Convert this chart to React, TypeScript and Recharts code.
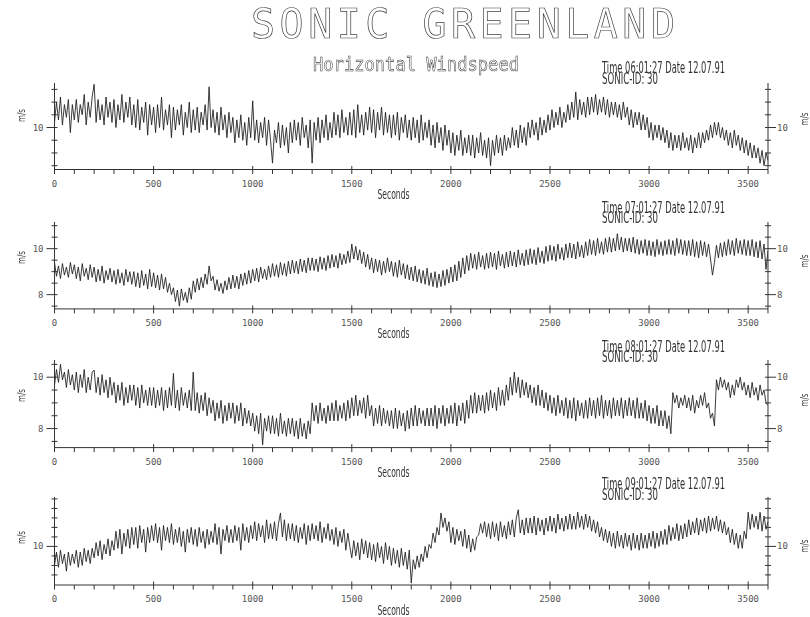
import React from 'react';
import { LineChart, Line, XAxis, YAxis } from 'recharts';

const STEP_SECONDS = 10;

// Horizontal windspeed (m/s), one value every 10 s, hours 06, 07, 08, 09
const hour06 = [
  10.2, 11.0, 10.3, 11.2, 10.1, 10.9, 10.4, 11.1, 9.8, 10.9, 10.3, 11.1, 10.2, 10.9, 10.5, 11.3, 10.1, 11.0, 10.4, 11.2,
  11.7, 10.2, 11.1, 10.3, 10.9, 10.1, 11.2, 10.4, 11.0, 10.2, 11.1, 10.0, 10.9, 10.3, 11.3, 10.2, 11.0, 10.4, 11.2, 10.1,
  10.9, 10.0, 11.1, 9.9, 10.8, 10.2, 11.0, 9.7, 10.9, 10.1, 10.8, 9.8, 10.9, 10.0, 11.2, 9.9, 10.7, 10.1, 10.9, 9.6,
  10.8, 9.9, 10.7, 10.1, 10.9, 9.7, 10.6, 10.0, 11.0, 9.8, 10.7, 9.9, 10.8, 9.8, 10.6, 10.1, 10.9, 9.9, 11.6, 10.0,
  10.7, 9.8, 10.6, 9.7, 10.8, 9.9, 10.5, 9.6, 10.6, 9.8, 10.4, 9.4, 10.3, 9.6, 10.5, 9.5, 10.2, 9.3, 10.4, 9.6,
  11.05, 9.5, 10.3, 9.4, 10.2, 9.6, 10.4, 9.3, 10.3, 9.5, 8.6, 9.9, 9.4, 10.2, 9.2, 10.1, 9.3, 10.0, 9.0, 10.2,
  9.4, 10.3, 9.5, 10.2, 9.3, 10.4, 9.6, 10.1, 9.2, 10.3, 8.6, 10.2, 9.5, 10.4, 9.4, 10.3, 9.6, 10.5, 9.5, 10.2,
  9.6, 10.6, 9.7, 10.5, 9.6, 10.7, 9.8, 10.4, 9.7, 10.6, 9.7, 10.7, 9.6, 10.9, 9.8, 10.5, 9.7, 10.6, 9.9, 10.8,
  9.8, 10.7, 9.6, 10.6, 9.9, 10.8, 9.7, 10.6, 9.8, 10.5, 9.6, 10.5, 9.7, 10.6, 9.5, 10.4, 9.8, 10.5, 9.6, 10.3,
  9.5, 10.4, 9.6, 10.3, 9.4, 10.5, 9.5, 10.2, 9.6, 10.3, 9.3, 10.1, 9.2, 10.2, 9.4, 10.0, 9.1, 10.1, 9.3, 9.9,
  9.0, 9.8, 8.9, 9.7, 9.1, 9.9, 8.9, 9.6, 9.0, 9.7, 8.9, 9.7, 8.8, 9.6, 9.0, 9.8, 8.9, 9.5, 8.8, 9.6,
  8.5, 9.5, 8.9, 9.7, 9.0, 9.6, 8.9, 9.7, 9.1, 9.6, 9.2, 10.0, 9.3, 9.9, 9.2, 10.1, 9.4, 10.0, 9.3, 10.2,
  9.6, 10.3, 9.7, 10.2, 9.5, 10.4, 9.7, 10.3, 9.8, 10.5, 9.9, 10.7, 10.0, 10.6, 10.1, 10.8, 10.0, 10.6, 10.2, 10.9,
  10.3, 11.0, 10.4, 11.4, 10.3, 11.1, 10.5, 11.0, 10.4, 11.2, 10.5, 11.2, 10.6, 11.3, 10.5, 11.1, 10.6, 11.2, 10.5, 11.1,
  10.4, 11.0, 10.5, 11.0, 10.4, 10.9, 10.3, 11.0, 10.4, 10.8, 10.1, 10.7, 10.0, 10.6, 10.1, 10.6, 9.9, 10.5, 9.9, 10.4,
  9.6, 10.2, 9.5, 10.1, 9.6, 10.1, 9.5, 10.0, 9.4, 9.9, 9.2, 9.8, 9.1, 9.7, 9.2, 9.7, 9.1, 9.8, 9.2, 9.6,
  9.1, 9.7, 9.0, 9.6, 9.2, 9.8, 9.2, 9.8, 9.4, 9.9, 9.5, 10.1, 9.6, 10.2, 9.7, 10.2, 9.6, 10.0, 9.5, 9.9,
  9.3, 9.8, 9.2, 9.9, 9.3, 9.7, 9.1, 9.6, 9.0, 9.5, 8.9, 9.4, 8.8, 9.3, 8.8, 9.2, 8.6, 9.1, 8.5, 9.0,
  8.7,
];

const hour07 = [
  9.4, 8.8, 9.25, 8.7, 9.35, 8.85, 9.2, 8.75, 9.4, 8.9, 9.3, 8.7, 9.2, 8.6, 9.35, 8.8, 9.15, 8.65, 9.3, 8.75,
  9.2, 8.55, 9.1, 8.6, 9.25, 8.5, 9.05, 8.65, 9.15, 8.55, 9.05, 8.45, 9.1, 8.5, 8.95, 8.4, 9.1, 8.55, 9.0, 8.45,
  9.0, 8.35, 8.95, 8.3, 9.05, 8.4, 8.9, 8.25, 9.1, 8.35, 8.95, 8.3, 8.85, 8.2, 8.9, 8.25, 8.75, 8.1, 8.5, 8.0,
  8.3, 7.7, 8.2, 7.5, 8.25, 7.75, 8.1, 7.65, 8.3, 7.8, 8.6, 8.1, 8.7, 8.2, 8.75, 8.3, 8.9, 8.45, 9.25, 8.6,
  8.8, 8.2, 8.65, 8.15, 8.5, 8.05, 8.6, 8.2, 8.75, 8.25, 8.85, 8.3, 8.8, 8.25, 8.9, 8.4, 8.95, 8.45, 9.05, 8.5,
  9.1, 8.6, 9.15, 8.55, 9.2, 8.7, 9.1, 8.65, 9.25, 8.75, 9.35, 8.8, 9.3, 8.75, 9.4, 8.85, 9.35, 8.8, 9.45, 8.9,
  9.5, 8.95, 9.45, 8.9, 9.55, 9.0, 9.5, 8.95, 9.6, 9.05, 9.6, 9.05, 9.55, 9.0, 9.65, 9.1, 9.6, 9.05, 9.7, 9.15,
  9.75, 9.2, 9.7, 9.15, 9.8, 9.3, 9.75, 9.35, 9.9, 9.4, 10.2, 9.55, 10.1, 9.5, 9.95, 9.35, 9.85, 9.2, 9.75, 9.1,
  9.6, 8.95, 9.55, 9.0, 9.5, 8.85, 9.45, 8.95, 9.6, 9.0, 9.45, 8.8, 9.4, 8.75, 9.5, 8.85, 9.35, 8.7, 9.3, 8.65,
  9.2, 8.6, 9.25, 8.55, 9.1, 8.5, 9.05, 8.45, 9.15, 8.4, 8.95, 8.35, 9.0, 8.3, 8.9, 8.35, 9.05, 8.4, 9.1, 8.5,
  9.2, 8.55, 9.3, 8.6, 9.45, 8.75, 9.6, 8.9, 9.7, 9.05, 9.8, 9.15, 9.75, 9.1, 9.85, 9.2, 9.7, 9.1, 9.8, 9.15,
  9.85, 9.2, 9.8, 9.1, 9.9, 9.25, 9.75, 9.15, 9.85, 9.2, 9.9, 9.25, 9.85, 9.2, 9.95, 9.3, 9.8, 9.25, 9.95, 9.3,
  10.0, 9.35, 9.95, 9.3, 10.05, 9.4, 9.9, 9.35, 10.1, 9.45, 10.15, 9.5, 10.1, 9.45, 10.2, 9.55, 10.05, 9.5, 10.2, 9.6,
  10.25, 9.6, 10.2, 9.55, 10.3, 9.65, 10.15, 9.6, 10.3, 9.7, 10.4, 9.75, 10.35, 9.7, 10.45, 9.8, 10.3, 9.75, 10.45, 9.85,
  10.5, 9.85, 10.45, 9.9, 10.65, 9.95, 10.5, 9.85, 10.45, 9.9, 10.45, 9.85, 10.5, 9.8, 10.4, 9.75, 10.35, 9.8, 10.4, 9.7,
  10.35, 9.7, 10.3, 9.65, 10.4, 9.75, 10.3, 9.7, 10.35, 9.75, 10.4, 9.75, 10.35, 9.7, 10.45, 9.8, 10.4, 9.75, 10.35, 9.7,
  10.35, 9.7, 10.4, 9.65, 10.3, 9.6, 10.35, 9.7, 10.3, 9.65, 10.2, 9.55, 8.85, 9.4, 10.15, 9.6, 10.25, 9.65, 10.3, 9.7,
  10.4, 9.75, 10.35, 9.7, 10.45, 9.8, 10.35, 9.75, 10.4, 9.7, 10.35, 9.7, 10.4, 9.65, 10.3, 9.6, 10.35, 9.55, 10.2, 9.1,
  9.9,
];

const hour08 = [
  9.7, 10.3, 9.8, 10.5, 9.9, 10.2, 9.6, 10.3, 9.7, 10.1, 9.5, 10.2, 9.4, 10.1, 9.6, 10.3, 9.4, 10.0, 9.5, 10.2,
  10.28, 9.4, 10.0, 9.3, 10.1, 9.4, 9.9, 9.2, 10.0, 9.3, 9.8, 9.0, 9.7, 9.1, 9.8, 8.9, 9.6, 9.0, 9.7, 9.1,
  9.7, 8.9, 9.6, 8.8, 9.7, 9.0, 9.5, 8.9, 9.6, 8.9, 9.6, 8.8, 9.5, 8.9, 9.6, 8.7, 9.5, 8.8, 9.6, 8.9,
  10.15, 8.8, 9.5, 8.7, 9.6, 8.9, 9.4, 8.8, 9.5, 8.7, 10.2, 8.7, 9.4, 8.6, 9.3, 8.7, 9.4, 8.5, 9.2, 8.6,
  9.1, 8.3, 9.0, 8.4, 9.1, 8.2, 8.9, 8.3, 9.0, 8.4, 9.0, 8.2, 8.9, 8.3, 9.0, 8.1, 8.8, 8.2, 8.7, 8.1,
  8.6, 7.9, 8.5, 7.8, 8.6, 7.37, 8.4, 7.9, 8.5, 7.8, 8.5, 7.8, 8.4, 7.7, 8.6, 7.8, 8.3, 7.7, 8.4, 7.8,
  8.4, 7.7, 8.3, 7.6, 8.4, 7.7, 8.2, 7.6, 8.3, 7.8, 9.0, 8.3, 8.9, 8.2, 9.0, 8.3, 8.8, 8.2, 8.9, 8.3,
  9.0, 8.3, 9.1, 8.3, 8.9, 8.4, 9.0, 8.3, 9.1, 8.4, 9.2, 8.5, 9.3, 8.5, 9.1, 8.6, 9.2, 8.4, 9.3, 8.5,
  8.9, 8.1, 8.8, 8.2, 8.9, 8.1, 8.8, 8.2, 8.7, 8.1, 8.7, 8.0, 8.8, 8.0, 8.7, 8.1, 8.6, 7.9, 8.7, 8.0,
  8.8, 8.1, 8.9, 8.1, 8.8, 8.2, 8.7, 8.1, 8.8, 8.1, 8.8, 8.1, 8.9, 8.0, 8.8, 8.2, 8.9, 8.1, 8.8, 8.2,
  8.9, 8.2, 9.0, 8.1, 8.9, 8.3, 9.0, 8.2, 9.1, 8.4, 9.3, 8.6, 9.4, 8.6, 9.3, 8.7, 9.3, 8.6, 9.4, 8.7,
  9.5, 8.8, 9.4, 8.7, 9.6, 8.9, 9.5, 8.9, 9.7, 9.1, 10.0, 9.3, 10.2, 9.4, 10.0, 9.2, 9.9, 9.3, 9.8, 9.2,
  9.7, 9.0, 9.6, 8.9, 9.7, 8.9, 9.5, 8.8, 9.4, 8.7, 9.3, 8.6, 9.2, 8.5, 9.3, 8.6, 9.1, 8.5, 9.2, 8.4,
  9.1, 8.4, 9.2, 8.3, 9.1, 8.5, 9.0, 8.4, 9.1, 8.4, 9.2, 8.5, 9.1, 8.4, 9.2, 8.5, 9.3, 8.4, 9.1, 8.5,
  9.1, 8.4, 9.2, 8.5, 9.1, 8.5, 9.2, 8.4, 9.1, 8.5, 9.2, 8.5, 9.1, 8.4, 9.2, 8.4, 9.0, 8.4, 9.1, 8.3,
  8.9, 8.2, 8.8, 8.2, 8.9, 8.1, 8.7, 8.1, 8.7, 8.0, 8.5, 7.8, 9.4, 9.0, 9.3, 8.8, 9.2, 8.9, 9.3, 8.8,
  9.2, 8.7, 9.3, 8.6, 9.1, 8.8, 9.3, 8.9, 9.4, 8.8, 9.0, 8.4, 8.6, 8.1, 9.9, 9.5, 10.0, 9.6, 9.9, 9.5,
  9.8, 9.2, 9.7, 9.3, 9.9, 9.6, 10.0, 9.5, 9.8, 9.3, 9.7, 9.2, 9.8, 9.3, 9.6, 9.1, 9.7, 9.3, 9.5, 9.0,
  8.9,
];

const hour09 = [
  9.0, 9.7, 8.9, 9.8, 9.1, 9.6, 8.7, 9.7, 9.0, 9.6, 9.1, 9.8, 8.9, 9.7, 9.0, 9.9, 9.2, 9.8, 9.1, 9.9,
  9.4, 10.2, 9.5, 10.3, 9.3, 10.1, 9.6, 10.4, 9.5, 10.3, 9.8, 10.8, 9.9, 10.9, 9.6, 10.7, 10.0, 10.9, 9.9, 11.0,
  10.1, 11.0, 9.9, 11.1, 10.2, 10.9, 9.7, 11.0, 10.2, 11.1, 10.3, 11.2, 10.2, 11.0, 9.8, 11.1, 10.3, 11.0, 10.2, 11.2,
  10.1, 10.9, 10.2, 11.0, 10.0, 10.8, 9.7, 10.9, 10.2, 11.0, 10.1, 10.9, 10.0, 11.0, 10.2, 10.8, 9.9, 10.9, 10.1, 10.8,
  10.2, 11.2, 10.1, 11.0, 9.6, 10.9, 10.3, 11.1, 10.2, 10.9, 10.2, 11.1, 10.3, 11.0, 9.8, 11.2, 10.3, 11.0, 10.2, 11.1,
  10.4, 11.3, 10.3, 11.2, 10.5, 11.1, 10.2, 11.4, 10.4, 11.2, 10.4, 11.3, 10.3, 11.2, 11.76, 10.5, 11.4, 10.3, 11.2, 10.4,
  11.2, 10.3, 11.1, 10.2, 11.0, 10.4, 11.2, 10.1, 11.1, 10.3, 11.2, 10.4, 11.1, 10.3, 11.3, 10.2, 11.0, 10.4, 11.2, 10.3,
  10.9, 10.1, 11.0, 10.0, 10.8, 10.2, 10.9, 9.8, 10.7, 10.0, 9.4, 10.3, 9.5, 10.2, 9.3, 10.4, 9.6, 10.3, 9.4, 10.2,
  9.3, 10.1, 9.2, 10.2, 9.4, 10.0, 9.1, 10.2, 9.3, 10.0, 9.0, 9.9, 9.1, 9.8, 8.9, 9.9, 9.0, 9.7, 8.8, 9.8,
  8.07, 9.3, 8.8, 9.5, 8.9, 9.6, 9.2, 10.0, 9.4, 10.1, 9.9, 10.7, 10.2, 11.0, 10.6, 11.76, 11.0, 11.5, 10.8, 11.3,
  10.2, 11.0, 10.1, 10.9, 10.3, 10.8, 10.0, 10.9, 9.9, 10.6, 9.7, 10.4, 9.8, 10.5, 10.6, 11.2, 10.7, 11.3, 10.5, 11.2,
  10.4, 11.3, 10.5, 11.2, 10.3, 11.3, 10.5, 11.1, 10.4, 11.3, 10.6, 11.4, 10.5, 11.5, 11.93, 10.7, 11.4, 10.6, 11.5, 10.7,
  11.5, 10.7, 11.6, 10.6, 11.5, 10.8, 11.4, 10.6, 11.5, 10.8, 11.6, 10.8, 11.5, 10.7, 11.7, 10.9, 11.5, 10.8, 11.6, 10.9,
  11.7, 10.9, 11.6, 10.9, 11.8, 11.0, 11.6, 10.9, 11.7, 11.0, 11.6, 10.8, 11.4, 10.7, 11.3, 10.5, 11.0, 10.3, 10.9, 10.2,
  10.8, 10.0, 10.7, 9.9, 10.8, 10.0, 10.6, 9.9, 10.7, 10.0, 10.6, 9.8, 10.7, 9.9, 10.6, 9.8, 10.7, 9.9, 10.6, 9.9,
  10.7, 10.0, 10.8, 9.9, 10.7, 10.0, 10.8, 10.1, 10.9, 10.1, 11.1, 10.3, 11.0, 10.4, 11.2, 10.3, 11.1, 10.4, 11.2, 10.5,
  11.4, 10.6, 11.3, 10.7, 11.5, 10.6, 11.4, 10.8, 11.5, 10.7, 11.6, 10.8, 11.5, 10.9, 11.6, 10.8, 11.4, 10.7, 11.3, 10.6,
  11.0, 10.2, 10.9, 10.1, 10.7, 9.9, 10.6, 9.9, 10.8, 10.4, 11.8, 10.9, 11.7, 11.0, 11.6, 10.9, 11.8, 10.8, 11.6, 10.9,
  11.3,
];

const xTicks = [
  0, 100, 200, 300, 400, 500, 600, 700, 800, 900, 1000, 1100, 1200, 1300, 1400, 1500,
  1600, 1700, 1800, 1900, 2000, 2100, 2200, 2300, 2400, 2500, 2600, 2700, 2800, 2900,
  3000, 3100, 3200, 3300, 3400, 3500, 3600,
];
const xLabelTicks = [0, 500, 1000, 1500, 2000, 2500, 3000, 3500];

const yTicks06 = [8.5, 9, 9.5, 10, 10.5, 11, 11.5];
const yTicks07 = [7.5, 8, 8.5, 9, 9.5, 10, 10.5, 11];
const yTicks08 = [7.5, 8, 8.5, 9, 9.5, 10, 10.5];
const yTicks09 = [8.5, 9, 9.5, 10, 10.5, 11, 11.5, 12, 12.5];
const yLabels06 = [10];
const yLabels07 = [8, 10];
const yLabels08 = [8, 10];
const yLabels09 = [10];

const timeStamps = ['Time 06:01:27 Date 12.07.91', 'Time 07:01:27 Date 12.07.91', 'Time 08:01:27 Date 12.07.91', 'Time 09:01:27 Date 12.07.91'];
const sonicId = 'SONIC-ID: 30';

const toRows = (values: number[]) => values.map((v, i) => ({ t: i * STEP_SECONDS, v }));

// layout (pixels) of each panel
const panels = [
  { values: hour06, yTicks: yTicks06, yLabels: yLabels06, domain: [8.35, 11.75], top: 82.5, bottom: 169, yLabelY: 115.5, yLabelYR: 119 },
  { values: hour07, yTicks: yTicks07, yLabels: yLabels07, domain: [7.38, 11.16], top: 221.6, bottom: 308.5, yLabelY: 257.5, yLabelYR: 261 },
  { values: hour08, yTicks: yTicks08, yLabels: yLabels08, domain: [7.26, 10.67], top: 360.1, bottom: 447.7, yLabelY: 395.5, yLabelYR: 400 },
  { values: hour09, yTicks: yTicks09, yLabels: yLabels09, domain: [7.97, 12.6], top: 497.3, bottom: 585.3, yLabelY: 537.5, yLabelYR: 546 },
];

const INK = '#1a1a1a';
const AXIS = '#333';
const LEFT = 54.5;
const RIGHT = 768;
const PAD_TOP = 4;
const XAXIS_H = 30;

const XTick = (props: any) => {
  const { x, y, payload } = props;
  const val = payload.value;
  const major = xLabelTicks.includes(val);
  return (
    <g>
      <line x1={x} x2={x} y1={major ? y - 3.5 : y} y2={y + 4.5} stroke={AXIS} strokeWidth={1} />
      {major && (
        <text x={x} y={y + 17} textAnchor="middle" fontFamily="DejaVu Sans Mono" fontSize={9} fill="#555">
          {val}
        </text>
      )}
    </g>
  );
};

const makeYTick = (labels: number[], side: 'l' | 'r') => (props: any) => {
  const { x, y, payload } = props;
  const val = payload.value;
  const lab = labels.includes(val);
  if (side === 'l') {
    return (
      <g>
        <line x1={lab ? x - 8 : x - 3} x2={x + 3} y1={y} y2={y} stroke={AXIS} strokeWidth={1} />
        {lab && (
          <text x={x - 11} y={y + 3} textAnchor="end" fontFamily="DejaVu Sans Mono" fontSize={9} fill="#555">
            {val}
          </text>
        )}
      </g>
    );
  }
  return (
    <g>
      <line x1={x - 3} x2={lab ? x + 8 : x + 3} y1={y} y2={y} stroke={AXIS} strokeWidth={1} />
      {lab && (
        <text x={x + 9} y={y + 3} textAnchor="start" fontFamily="DejaVu Sans Mono" fontSize={9} fill="#555">
          {val}
        </text>
      )}
    </g>
  );
};

const Panel = ({ p }: { p: (typeof panels)[number] }) => {
  const H = p.bottom - p.top + PAD_TOP + XAXIS_H;
  return (
    <div style={{ position: 'absolute', left: 0, top: p.top - PAD_TOP, width: 810, height: H }}>
      <LineChart width={810} height={H} data={toRows(p.values)} margin={{ top: PAD_TOP, right: 0, bottom: 0, left: 0 }}>
        <XAxis
          dataKey="t"
          type="number"
          domain={[0, 3600]}
          ticks={xTicks}
          interval={0}
          height={XAXIS_H}
          tickSize={0}
          tickMargin={0}
          tickLine={false}
          axisLine={{ stroke: AXIS, strokeWidth: 1 }}
          tick={(props: any) => <XTick {...props} />}
          allowDataOverflow
        />
        <YAxis
          yAxisId="l"
          type="number"
          domain={p.domain}
          ticks={p.yTicks}
          interval={0}
          width={LEFT}
          tickSize={0}
          tickMargin={0}
          tickLine={false}
          axisLine={{ stroke: AXIS, strokeWidth: 1 }}
          tick={makeYTick(p.yLabels, 'l')}
          allowDataOverflow
        />
        <YAxis
          yAxisId="r"
          orientation="right"
          type="number"
          domain={p.domain}
          ticks={p.yTicks}
          interval={0}
          width={810 - RIGHT}
          tickSize={0}
          tickMargin={0}
          tickLine={false}
          axisLine={{ stroke: AXIS, strokeWidth: 1 }}
          tick={makeYTick(p.yLabels, 'r')}
          allowDataOverflow
        />
        <Line yAxisId="l" type="linear" dataKey="v" stroke={INK} strokeWidth={0.85} dot={false} isAnimationActive={false} />
      </LineChart>
    </div>
  );
};

export default function App() {
  return (
    <div style={{ position: 'absolute', left: 0, top: 0, width: 810, height: 617, background: '#fff', overflow: 'hidden' }}>
      {panels.map((p, i) => (
        <Panel key={i} p={p} />
      ))}
      <svg width={810} height={617} style={{ position: 'absolute', left: 0, top: 0, pointerEvents: 'none', willChange: 'transform' }}>
        <text x={251} y={37.5} fontFamily="DejaVu Sans Mono" fontSize={40} textLength={424} lengthAdjust="spacing" fill="none" stroke="#444" strokeWidth={0.7}>
          SONIC GREENLAND
        </text>
        <text x={313} y={70.5} fontFamily="DejaVu Sans Mono" fontSize={20} textLength={206} lengthAdjust="spacingAndGlyphs" fill="none" stroke="#444" strokeWidth={0.6}>
          Horizontal Windspeed
        </text>
        {panels.map((p, i) => (
          <g key={i}>
            <text x={602} y={p.bottom - 96} fontFamily="DejaVu Sans" fontSize={15} textLength={123} lengthAdjust="spacingAndGlyphs" fill="#333">
              {timeStamps[i]}
            </text>
            <text x={602} y={p.bottom - 85.5} fontFamily="DejaVu Sans" fontSize={15} textLength={56} lengthAdjust="spacingAndGlyphs" fill="#333">
              {sonicId}
            </text>
            <text x={377.5} y={p.bottom + 29.5} fontFamily="DejaVu Sans" fontSize={14} textLength={32} lengthAdjust="spacingAndGlyphs" fill="#333">
              Seconds
            </text>
            <text transform={`translate(25, ${p.yLabelY}) rotate(-90)`} textAnchor="middle" fontFamily="DejaVu Sans" fontSize={10} textLength={13} lengthAdjust="spacingAndGlyphs" fill="#333">
              m/s
            </text>
            <text transform={`translate(808, ${p.yLabelYR}) rotate(-90)`} textAnchor="middle" fontFamily="DejaVu Sans" fontSize={10} textLength={13} lengthAdjust="spacingAndGlyphs" fill="#333">
              m/s
            </text>
          </g>
        ))}
      </svg>
    </div>
  );
}
